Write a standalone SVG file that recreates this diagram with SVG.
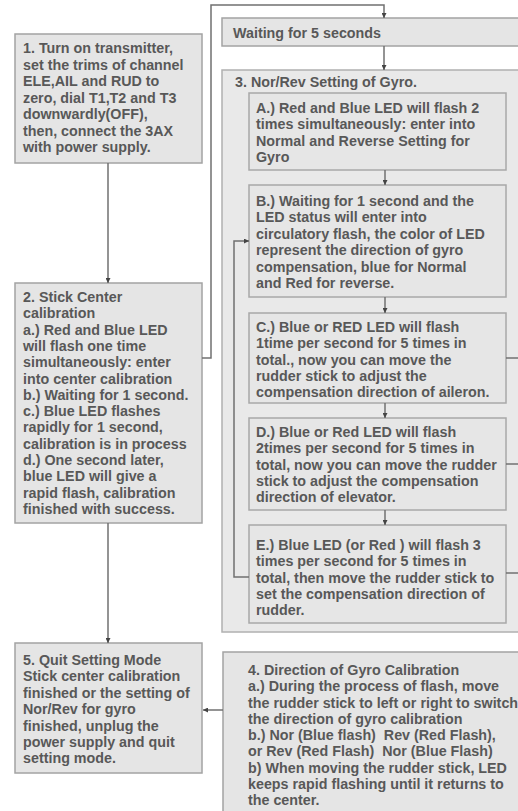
<svg xmlns="http://www.w3.org/2000/svg" width="518" height="811" viewBox="0 0 518 811">
<defs>
<style>
.box{fill:#e5e5e5;stroke:#a3a3a3;stroke-width:1.5}
.inner{fill:#e6e6e6;stroke:#a8a8a8;stroke-width:1.5}
.outer{fill:#e9e9e9;stroke:#b0b0b0;stroke-width:1.5}
.t{font-family:"Liberation Sans",Arial,sans-serif;font-size:14.3px;font-weight:bold;fill:#585858;white-space:pre}
.c{fill:none;stroke:#707070;stroke-width:1.5}
</style>
<marker id="ah" viewBox="0 0 6 6" refX="6" refY="3" markerWidth="5" markerHeight="5" markerUnits="userSpaceOnUse" orient="auto">
<path d="M0,0 L6,3 L0,6 z" fill="#444"/>
</marker>
</defs>
<rect width="518" height="811" fill="#ffffff"/>

<g id="node1">
<rect class="box" x="15" y="34" width="187" height="129"/>
<text class="t" x="23" y="53">1. Turn on transmitter,</text>
<text class="t" x="23" y="69.5">set the trims of channel</text>
<text class="t" x="23" y="86">ELE,AIL and RUD to</text>
<text class="t" x="23" y="102.5">zero, dial T1,T2 and T3</text>
<text class="t" x="23" y="119">downwardly(OFF),</text>
<text class="t" x="23" y="135.5">then, connect the 3AX</text>
<text class="t" x="23" y="152">with power supply.</text>
</g>

<g id="node2">
<rect class="box" x="15" y="283" width="187" height="240"/>
<text class="t" x="23" y="302">2. Stick Center</text>
<text class="t" x="23" y="318.3">calibration</text>
<text class="t" x="23" y="334.6">a.) Red and Blue LED</text>
<text class="t" x="23" y="350.9">will flash one time</text>
<text class="t" x="23" y="367.2">simultaneously: enter</text>
<text class="t" x="23" y="383.5">into center calibration</text>
<text class="t" x="23" y="399.8">b.) Waiting for 1 second.</text>
<text class="t" x="23" y="416.1">c.) Blue LED flashes</text>
<text class="t" x="23" y="432.4">rapidly for 1 second,</text>
<text class="t" x="23" y="448.7">calibration is in process</text>
<text class="t" x="23" y="465">d.) One second later,</text>
<text class="t" x="23" y="481.3">blue LED will give a</text>
<text class="t" x="23" y="497.6">rapid flash, calibration</text>
<text class="t" x="23" y="513.9">finished with success.</text>
</g>

<g id="wait">
<rect class="box" x="222" y="18" width="300" height="28"/>
<text class="t" x="233" y="38">Waiting for 5 seconds</text>
</g>

<g id="node3">
<rect class="outer" x="222" y="70" width="300" height="562"/>
<text class="t" x="235" y="87">3. Nor/Rev Setting of Gyro.</text>
</g>

<g id="nodeA">
<rect class="inner" x="249" y="93" width="257" height="77"/>
<text class="t" x="256" y="113">A.) Red and Blue LED will flash 2</text>
<text class="t" x="256" y="129.4">times simultaneously: enter into</text>
<text class="t" x="256" y="145.8">Normal and Reverse Setting for</text>
<text class="t" x="256" y="162.2">Gyro</text>
</g>

<g id="nodeB">
<rect class="inner" x="249" y="185" width="257" height="112"/>
<text class="t" x="256" y="206">B.) Waiting for 1 second and the</text>
<text class="t" x="256" y="222.4">LED status will enter into</text>
<text class="t" x="256" y="238.8">circulatory flash, the color of LED</text>
<text class="t" x="256" y="255.2">represent the direction of gyro</text>
<text class="t" x="256" y="271.6">compensation, blue for Normal</text>
<text class="t" x="256" y="288">and Red for reverse.</text>
</g>

<g id="nodeC">
<rect class="inner" x="249" y="313" width="257" height="90"/>
<text class="t" x="256" y="332">C.) Blue or RED LED will flash</text>
<text class="t" x="256" y="348.3">1time per second for 5 times in</text>
<text class="t" x="256" y="364.6">total., now you can move the</text>
<text class="t" x="256" y="380.9">rudder stick to adjust the</text>
<text class="t" x="256" y="397.2">compensation direction of aileron.</text>
</g>

<g id="nodeD">
<rect class="inner" x="249" y="418" width="257" height="92"/>
<text class="t" x="256" y="437">D.) Blue or Red LED will flash</text>
<text class="t" x="256" y="453.3">2times per second for 5 times in</text>
<text class="t" x="256" y="469.6">total, now you can move the rudder</text>
<text class="t" x="256" y="485.9">stick to adjust the compensation</text>
<text class="t" x="256" y="502.2">direction of elevator.</text>
</g>

<g id="nodeE">
<rect class="inner" x="249" y="525" width="257" height="98"/>
<text class="t" x="256" y="550">E.) Blue LED (or Red ) will flash 3</text>
<text class="t" x="256" y="566.3">times per second for 5 times in</text>
<text class="t" x="256" y="582.6">total, then move the rudder stick to</text>
<text class="t" x="256" y="598.9">set the compensation direction of</text>
<text class="t" x="256" y="615.2">rudder.</text>
</g>

<g id="node5">
<rect class="box" x="15" y="643" width="187" height="130"/>
<text class="t" x="23" y="665">5. Quit Setting Mode</text>
<text class="t" x="23" y="681.4">Stick center calibration</text>
<text class="t" x="23" y="697.8">finished or the setting of</text>
<text class="t" x="23" y="714.2">Nor/Rev for gyro</text>
<text class="t" x="23" y="730.6">finished, unplug the</text>
<text class="t" x="23" y="747">power supply and quit</text>
<text class="t" x="23" y="763.4">setting mode.</text>
</g>

<g id="node4">
<rect class="box" x="223" y="652" width="300" height="165"/>
<text class="t" x="248" y="675">4. Direction of Gyro Calibration</text>
<text class="t" x="248" y="691.25">a.) During the process of flash, move</text>
<text class="t" x="248" y="707.5">the rudder stick to left or right to switch</text>
<text class="t" x="248" y="723.75">the direction of gyro calibration</text>
<text class="t" x="248" y="740">b.) Nor (Blue flash)  Rev (Red Flash),</text>
<text class="t" x="248" y="756.25">or Rev (Red Flash)  Nor (Blue Flash)</text>
<text class="t" x="248" y="772.5">b) When moving the rudder stick, LED</text>
<text class="t" x="248" y="788.75">keeps rapid flashing until it returns to</text>
<text class="t" x="248" y="805">the center.</text>
</g>

<g id="connectors">
<path class="c" d="M108,163 V283" marker-end="url(#ah)"/>
<path class="c" d="M108,523 V643" marker-end="url(#ah)"/>
<path class="c" d="M202,358 H211 V5 H384 V18" marker-end="url(#ah)"/>
<path class="c" d="M384,46 V70" marker-end="url(#ah)"/>
<path class="c" d="M385,170 V185" marker-end="url(#ah)"/>
<path class="c" d="M385,297 V313" marker-end="url(#ah)"/>
<path class="c" d="M385,403 V418" marker-end="url(#ah)"/>
<path class="c" d="M385,510 V525" marker-end="url(#ah)"/>
<path class="c" d="M249,577 H234 V241 H249" marker-end="url(#ah)"/>
<path class="c" d="M506,358 H520"/>
<path class="c" d="M506,464 H520"/>
<path class="c" d="M506,573 H520"/>
<path class="c" d="M223,710 H203" marker-end="url(#ah)"/>
</g>
</svg>
